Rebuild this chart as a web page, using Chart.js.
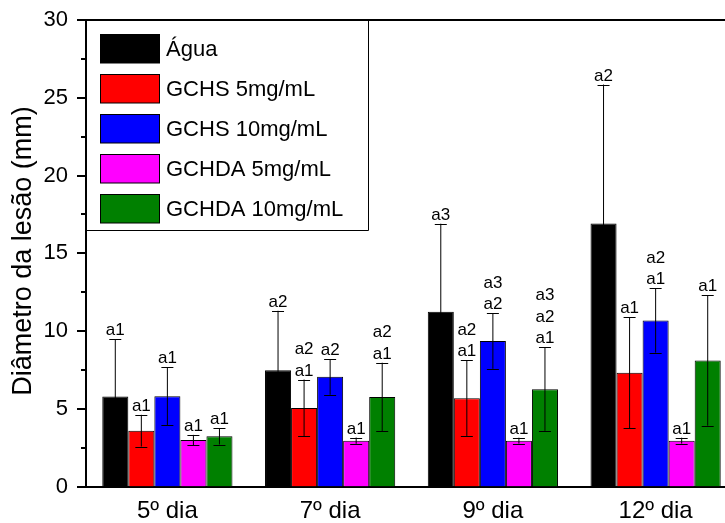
<!DOCTYPE html>
<html>
<head>
<meta charset="utf-8">
<script src="https://cdn.jsdelivr.net/npm/chart.js@4"></script>
<style>
  html, body { margin: 0; padding: 0; background: #fff; overflow: hidden; }
  #wrap { width: 725px; height: 523px; overflow: hidden; position: relative; }
  #c { display: block; }
</style>
</head>
<body>
<div id="wrap"><canvas id="c" width="745" height="523" style="width:745px;height:523px"></canvas></div>
<script>
// Categories (days) and treatment groups
const dias = ['5º dia', '7º dia', '9º dia', '12º dia'];
const grupos = ['Água', 'GCHS 5mg/mL', 'GCHS 10mg/mL', 'GCHDA 5mg/mL', 'GCHDA 10mg/mL'];
const cores = ['#000000', '#ff0000', '#0000ff', '#ff00ff', '#008000'];

// Mean lesion diameter (mm)
const agua    = [5.78, 7.48, 11.24, 16.92];
const gchs5   = [3.59, 5.05, 5.68, 7.31];
const gchs10  = [5.81, 7.05, 9.35, 10.68];
const gchda5  = [2.99, 2.95, 2.95, 2.95];
const gchda10 = [3.23, 5.76, 6.26, 8.10];

// Standard deviations
const dpAgua    = [3.70, 3.82, 5.66, 8.93];
const dpGchs5   = [1.02, 1.83, 2.43, 3.57];
const dpGchs10  = [1.85, 1.15, 1.78, 2.07];
const dpGchda5  = [0.33, 0.20, 0.19, 0.19];
const dpGchda10 = [0.53, 2.20, 2.68, 4.19];

// Statistical grouping letters (top line first)
const letrasAgua    = [['a1'], ['a2'], ['a3'], ['a2']];
const letrasGchs5   = [['a1'], ['a2', 'a1'], ['a2', 'a1'], ['a1']];
const letrasGchs10  = [['a1'], ['a2'], ['a3', 'a2'], ['a2', 'a1']];
const letrasGchda5  = [['a1'], ['a1'], ['a1'], ['a1']];
const letrasGchda10 = [['a1'], ['a2', 'a1'], ['a3', 'a2', 'a1'], ['a1']];

// Y axis
const yMin = 0, yMax = 30, yPasso = 5, yPassoMenor = 2.5;
const tituloY = 'Diâmetro da lesão (mm)';

const medias = [agua, gchs5, gchs10, gchda5, gchda10];
const desvios = [dpAgua, dpGchs5, dpGchs10, dpGchda5, dpGchda10];
const letras = [letrasAgua, letrasGchs5, letrasGchs10, letrasGchda5, letrasGchda10];

const FONTE = '"Liberation Sans", Arial, Helvetica, sans-serif';

// Error bars + letters above them
const barrasErro = {
  id: 'barrasErro',
  afterDatasetsDraw(chart) {
    const ctx = chart.ctx;
    const y = chart.scales.y;
    ctx.save();
    chart.data.datasets.forEach((ds, di) => {
      const meta = chart.getDatasetMeta(di);
      meta.data.forEach((bar, i) => {
        const m = ds.data[i], e = desvios[di][i];
        const yTop = y.getPixelForValue(m + e);
        const yBot = y.getPixelForValue(m - e);
        const x = bar.x;
        ctx.strokeStyle = '#000';
        ctx.lineWidth = 1;
        ctx.beginPath();
        ctx.moveTo(x, yTop); ctx.lineTo(x, yBot);
        ctx.moveTo(x - 6, Math.round(yTop) + 0.5); ctx.lineTo(x + 6, Math.round(yTop) + 0.5);
        ctx.moveTo(x - 6, Math.round(yBot) + 0.5); ctx.lineTo(x + 6, Math.round(yBot) + 0.5);
        ctx.stroke();
        // letters
        const linhas = letras[di][i];
        ctx.fillStyle = '#000';
        ctx.font = '17px ' + FONTE;
        ctx.textAlign = 'center';
        ctx.textBaseline = 'alphabetic';
        const base = yTop - 4;
        for (let k = 0; k < linhas.length; k++) {
          const txt = linhas[linhas.length - 1 - k];
          ctx.fillText(txt, x, base - k * 21.7);
        }
      });
    });
    ctx.restore();
  }
};

// Frame (top line), y tick marks and y title
const moldura = {
  id: 'moldura',
  afterDraw(chart) {
    const ctx = chart.ctx;
    const a = chart.chartArea;
    const y = chart.scales.y;
    ctx.save();
    ctx.strokeStyle = '#000';
    ctx.lineWidth = 2;
    ctx.beginPath();
    ctx.moveTo(a.left - 1, a.top);
    ctx.lineTo(a.right + 1, a.top);
    ctx.moveTo(a.right, a.top);
    ctx.lineTo(a.right, a.bottom);
    ctx.stroke();
    // y ticks, major and minor, pointing outward
    ctx.lineWidth = 2;
    for (let v = yMin; v <= yMax + 1e-9; v += yPassoMenor) {
      const py = Math.round(y.getPixelForValue(v));
      const major = Math.abs(v / yPasso - Math.round(v / yPasso)) < 1e-6;
      const len = major ? 9 : 5;
      ctx.beginPath();
      ctx.moveTo(a.left - len, py);
      ctx.lineTo(a.left, py);
      ctx.stroke();
    }
    // y title
    ctx.translate(24, 251);
    ctx.rotate(-Math.PI / 2);
    ctx.fillStyle = '#000';
    ctx.font = '27px ' + FONTE;
    ctx.textAlign = 'center';
    ctx.textBaseline = 'middle';
    ctx.fillText(tituloY, 0, 0);
    ctx.restore();
  }
};

// Legend box in the upper-left corner of the plot
const legenda = {
  id: 'legenda',
  afterDraw(chart) {
    const ctx = chart.ctx;
    const a = chart.chartArea;
    ctx.save();
    const bx0 = a.left, by0 = a.top, bx1 = 368.5, by1 = 230.5;
    ctx.strokeStyle = '#000';
    ctx.lineWidth = 1;
    ctx.beginPath();
    ctx.moveTo(bx1, by0); ctx.lineTo(bx1, by1); ctx.lineTo(bx0, by1);
    ctx.stroke();
    chart.data.datasets.forEach((ds, i) => {
      const sy = 34.5 + i * 40;
      ctx.fillStyle = ds.backgroundColor;
      ctx.fillRect(100.5, sy, 59, 28.5);
      ctx.strokeStyle = '#000';
      ctx.lineWidth = 1;
      ctx.strokeRect(100.5, sy, 59, 28.5);
      ctx.fillStyle = '#000';
      ctx.font = '22px ' + FONTE;
      ctx.textAlign = 'left';
      ctx.textBaseline = 'middle';
      ctx.fillText(ds.label, 166, sy + 15);
    });
    ctx.restore();
  }
};

new Chart(document.getElementById('c'), {
  type: 'bar',
  data: {
    labels: dias,
    datasets: grupos.map((g, i) => ({
      label: g,
      data: medias[i],
      backgroundColor: cores[i],
      borderColor: '#000',
      borderWidth: 1,
      categoryPercentage: 0.8,
      barPercentage: 1.0
    }))
  },
  options: {
    responsive: false,
    animation: false,
    devicePixelRatio: 1,
    layout: { padding: { top: 20, right: 8, left: 0, bottom: 0 } },
    plugins: {
      legend: { display: false },
      tooltip: { enabled: false },
      title: { display: false }
    },
    scales: {
      x: {
        grid: { display: false, drawTicks: false, tickLength: 0 },
        border: { display: true, color: '#000', width: 2 },
        ticks: { color: '#000', font: { family: FONTE, size: 24 }, padding: 10, maxRotation: 0 },
        afterFit(scale) { scale.height = 36.5; scale.paddingLeft = 0; scale.paddingRight = 0; }
      },
      y: {
        min: yMin, max: yMax,
        grid: { display: false, drawTicks: false, tickLength: 0 },
        border: { display: true, color: '#000', width: 2 },
        ticks: { stepSize: yPasso, color: '#000', font: { family: FONTE, size: 22 }, padding: 18 },
        afterFit(scale) { scale.width = 86; scale.paddingTop = 0; scale.paddingBottom = 0; }
      }
    }
  },
  plugins: [barrasErro, moldura, legenda]
});
</script>
</body>
</html>
